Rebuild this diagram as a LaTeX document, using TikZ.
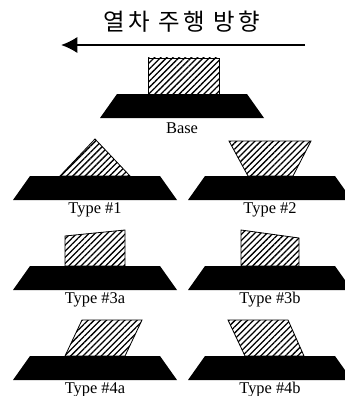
\documentclass[tikz,border=0pt]{standalone}
\usepackage{fontspec}
\setmainfont{Liberation Serif}
\newfontfamily\krfont[LetterSpace=14]{Noto Sans CJK KR}
\usetikzlibrary{patterns.meta,arrows.meta}
\tikzset{
  wedge/.style={draw=black,line width=0.7pt,pattern={Lines[angle=45,distance=3.7pt,line width=1.1pt]}},
  typelab/.style={font=\fontsize{14}{16}\selectfont,inner sep=0pt}
}

\begin{document}
\begin{tikzpicture}[x=0.03cm,y=-0.03cm]
  \useasboundingbox (0,0) rectangle (345,396);
  \node[font=\fontsize{20}{24}\krfont,inner sep=0pt] (title) at (182,22) {열차 주행 방향};
  \coordinate (arrowstart) at (305,45);
  \coordinate (arrowend) at (61,45);
  \draw[line width=1.7pt,-{Latex[length=14pt,width=14pt]}] (arrowstart) -- (arrowend);
  % hatched blocks
  \draw[wedge] (148,58) rectangle (219,95);
  \draw[wedge] (95,139) -- (130,176) -- (60,176) -- cycle;
  \draw[wedge] (229,141) -- (311,141) -- (293,176) -- (248,176) -- cycle;
  \draw[wedge] (65,236) -- (125,230) -- (125,266) -- (65,266) -- cycle;
  \draw[wedge] (241,230) -- (299,238) -- (299,266) -- (241,266) -- cycle;
  \draw[wedge] (82,320) -- (142,320) -- (125,356) -- (65,356) -- cycle;
  \draw[wedge] (228,320) -- (288,320) -- (304,356) -- (245,356) -- cycle;
  % platforms and labels
  \foreach \x/\y/\nm/\lab in {182/94/base/Base,95/176/one/Type \#1,270/176/two/Type \#2,
      95/266/threea/Type \#3a,270/266/threeb/Type \#3b,95/356/foura/Type \#4a,270/356/fourb/Type \#4b} {
    \fill[black] (\x-65,\y) -- (\x+65,\y) -- (\x+82,\y+24) -- (\x-82,\y+24) -- cycle;
    \node[typelab] (\nm) at (\x,\y+34) {\lab};
  }
\end{tikzpicture}
\end{document}
